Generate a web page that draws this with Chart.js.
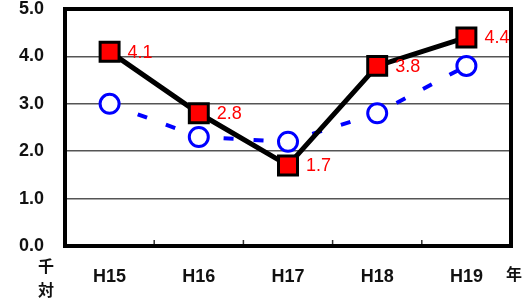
<!DOCTYPE html>
<html>
<head>
<meta charset="utf-8">
<script src="https://cdn.jsdelivr.net/npm/chart.js@4"></script>
<style>
html,body{margin:0;padding:0;background:#fff;}
#wrap{width:531px;height:300px;position:relative;}
</style>
</head>
<body>
<div id="wrap"><canvas id="c" width="531" height="300"></canvas></div>
<script>
const categories = ['H15', 'H16', 'H17', 'H18', 'H19'];
const redValues = [4.1, 2.8, 1.7, 3.8, 4.4];
const blueValues = [3.0, 2.3, 2.2, 2.8, 3.8];
const yUnitLabel = ['千', '対'];
const xUnitLabel = '年';

const framePlugin = {
  id: 'frame',
  beforeDatasetsDraw(chart) {
    const {ctx, chartArea: a, scales: {x}} = chart;
    ctx.save();
    // inward category boundary ticks
    ctx.strokeStyle = '#333';
    ctx.lineWidth = 1.5;
    for (let i = 1; i < categories.length; i++) {
      const px = (x.getPixelForValue(i - 1) + x.getPixelForValue(i)) / 2;
      ctx.beginPath();
      ctx.moveTo(px, a.bottom);
      ctx.lineTo(px, a.bottom - 6);
      ctx.stroke();
    }
    ctx.strokeStyle = '#000';
    ctx.lineWidth = 4;
    ctx.strokeRect(a.left, a.top, a.right - a.left, a.bottom - a.top);
    ctx.restore();
  },
  afterDatasetsDraw(chart) {
    const {ctx} = chart;
    ctx.save();
    const meta = chart.getDatasetMeta(0);
    ctx.fillStyle = '#ff0000';
    ctx.font = '18px "Liberation Sans", Arial, sans-serif';
    ctx.textAlign = 'left';
    ctx.textBaseline = 'middle';
    meta.data.forEach((pt, i) => {
      ctx.fillText(redValues[i].toFixed(1), pt.x + 18, pt.y + 1);
    });
    // unit labels
    ctx.fillStyle = '#111';
    ctx.font = 'bold 16px "Noto Sans CJK JP", sans-serif';
    ctx.textAlign = 'center';
    ctx.fillText(yUnitLabel[0], 46, 266);
    ctx.fillText(yUnitLabel[1], 46, 290);
    ctx.fillText(xUnitLabel, 514, 274);
    ctx.restore();
  }
};

new Chart(document.getElementById('c'), {
  type: 'line',
  data: {
    labels: categories,
    datasets: [
      {
        data: redValues,
        borderColor: '#000',
        borderWidth: 5,
        pointStyle: 'rect',
        pointRadius: 13.4,
        pointHoverRadius: 13.4,
        pointBackgroundColor: '#ff0000',
        pointBorderColor: '#000',
        pointBorderWidth: 3,
        tension: 0,
        fill: false
      },
      {
        data: blueValues,
        borderColor: '#0000ff',
        borderWidth: 4,
        borderDash: [10, 20],
        pointStyle: 'circle',
        pointRadius: 9.5,
        pointHoverRadius: 9.5,
        pointBackgroundColor: '#fff',
        pointBorderColor: '#0000ff',
        pointBorderWidth: 3,
        tension: 0,
        fill: false
      }
    ]
  },
  options: {
    responsive: false,
    animation: false,
    events: [],
    layout: {autoPadding: false, padding: {top: 9, right: 20, left: 0, bottom: 0}},
    plugins: {legend: {display: false}, tooltip: {enabled: false}},
    scales: {
      x: {
        offset: true,
        grid: {display: false, drawTicks: false},
        border: {display: false},
        ticks: {
          color: '#111',
          font: {family: '"Liberation Sans", Arial, sans-serif', size: 18, weight: 'bold'},
          padding: 20,
          maxRotation: 0
        },
        afterFit(s) { s.height = 54; }
      },
      y: {
        min: 0,
        max: 5,
        grid: {color: '#555', lineWidth: 1.5, drawTicks: false},
        border: {display: false},
        ticks: {
          stepSize: 1,
          color: '#111',
          font: {family: '"Liberation Sans", Arial, sans-serif', size: 18, weight: 'bold'},
          padding: 21,
          callback: v => Number(v).toFixed(1)
        },
        afterFit(s) { s.width = 65; s.paddingTop = 0; s.paddingBottom = 0; }
      }
    }
  },
  plugins: [framePlugin]
});
</script>
</body>
</html>
